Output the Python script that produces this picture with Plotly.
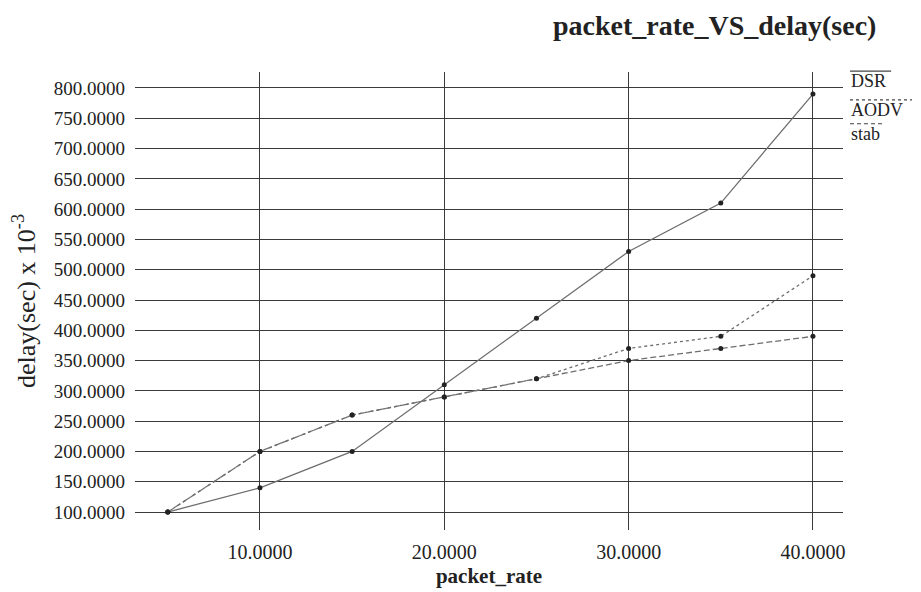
import plotly.graph_objects as go

packet_rate = [5, 10, 15, 20, 25, 30, 35, 40]
dsr = [100, 140, 200, 310, 420, 530, 610, 790]
aodv = [100, 200, 260, 290, 320, 370, 390, 490]
stab = [100, 200, 260, 290, 320, 350, 370, 390]
y_ticks = list(range(100, 801, 50))
x_ticks = [10, 20, 30, 40]

FONT = "Liberation Serif"
LINE_C = "#6e6e6e"
MARK_C = "#222222"
GRID_C = "#3a3a3a"

fig = go.Figure()
for name, vals, dash in [("DSR", dsr, "solid"), ("AODV", aodv, "dot"), ("stab", stab, "6px,3px")]:
    fig.add_trace(go.Scatter(
        x=packet_rate, y=vals, name=name, mode="lines+markers",
        line=dict(color=LINE_C, width=1.3, dash=dash),
        marker=dict(color=MARK_C, size=5),
        showlegend=False,
    ))

# page has an 8px body margin, so the figure is 8px smaller than the window
fig.update_layout(
    width=913, height=584,
    margin=dict(l=127, r=78, t=64, b=62),
    paper_bgcolor="white", plot_bgcolor="white",
    font=dict(family=FONT, color="#222222", size=20),
    title=dict(text="<b>packet_rate_VS_delay(sec)</b>", x=0.774, xanchor="center",
               y=0.97, yanchor="middle", xref="container", yref="container",
               font=dict(family=FONT, size=28, color="#222222")),
)
fig.update_xaxes(
    range=[3.22, 41.63], tickvals=x_ticks, ticktext=[f"{v:.4f}" for v in x_ticks],
    showgrid=True, gridcolor=GRID_C, gridwidth=1.3, zeroline=False, showline=False,
    ticks="", ticklabelstandoff=8, automargin=False,
    tickfont=dict(family=FONT, size=20, color="#222222"),
    title=dict(text="<b>packet_rate</b>", font=dict(family=FONT, size=21, color="#222222"), standoff=6),
)
fig.update_yaxes(
    range=[70.3, 826.4], tickvals=y_ticks, ticktext=[f"{v:.4f}" for v in y_ticks],
    showgrid=True, gridcolor=GRID_C, gridwidth=1.3, zeroline=False, showline=False,
    ticks="", ticklabelstandoff=9, automargin=False,
    tickfont=dict(family=FONT, size=19, color="#222222"),
    title=dict(text="delay(sec) x 10<sup>-3</sup>", font=dict(family=FONT, size=26, color="#222222"), standoff=12),
)

# legend drawn as text with overlines
legend_items = [("DSR", 0.980, 1.002, 1.068, "solid"),
                ("AODV", 0.917, 0.939, 1.0975, "dot"),
                ("stab", 0.865, 0.887, 1.059, "4px,3px")]
for text, ty, ly, x1, dash in legend_items:
    fig.add_annotation(text=text, xref="paper", yref="paper", x=1.0085, y=ty,
                       xanchor="left", yanchor="middle", showarrow=False,
                       font=dict(family=FONT, size=18, color="#222222"))
    fig.add_shape(type="line", xref="paper", yref="paper", x0=1.0099, x1=x1, y0=ly, y1=ly,
                  line=dict(color="#444444", width=1.2, dash=dash))

fig.write_html("out.html")
